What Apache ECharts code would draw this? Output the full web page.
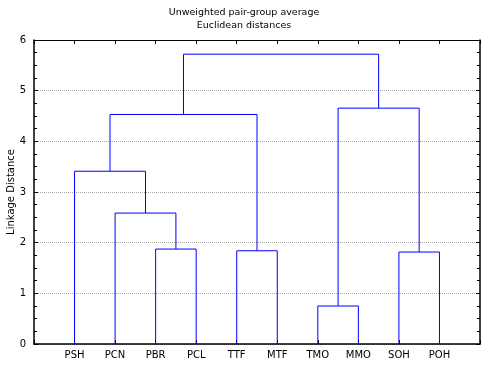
<!DOCTYPE html>
<html>
<head>
<meta charset="utf-8">
<script src="https://cdn.jsdelivr.net/npm/echarts@6/dist/echarts.min.js"></script>
<style>html,body{margin:0;padding:0;background:#fff}#c{width:488px;height:369px}</style>
</head>
<body>
<div id="c"></div>
<script>
// Leaves in dendrogram order
const leaves = ['PSH','PCN','PBR','PCL','TTF','MTF','TMO','MMO','SOH','POH'];
// Merges: [left cluster id, right cluster id, linkage distance]; leaf ids 0..9, new clusters 10..
const mergeLeft  = [6, 8, 4, 2, 1, 0, 15, 10, 16];
const mergeRight = [7, 9, 5, 3, 13, 14, 12, 11, 17];
const mergeHeight = [0.75, 1.815, 1.84, 1.874, 2.584, 3.41, 4.53, 4.655, 5.72];
const yTicks = [0, 1, 2, 3, 4, 5, 6];

const pos = leaves.map((_, i) => i + 1);
const hgt = leaves.map(() => 0);
const series = [];
mergeHeight.forEach((h, k) => {
  const a = mergeLeft[k], b = mergeRight[k];
  series.push({
    type: 'line', symbol: 'none', silent: true, animation: false,
    lineStyle: { color: '#0000ff', width: 1 },
    data: [[pos[a], hgt[a]], [pos[a], h], [pos[b], h], [pos[b], hgt[b]]]
  });
  pos.push((pos[a] + pos[b]) / 2);
  hgt.push(h);
});

const font = 'DejaVu Sans';
const chart = echarts.init(document.getElementById('c'), null, { renderer: 'canvas' });
chart.setOption({
  animation: false,
  backgroundColor: '#fff',
  textStyle: { fontFamily: font },
  title: {
    text: 'Unweighted pair-group average\nEuclidean distances',
    left: 'center', top: 1,
    textStyle: { fontFamily: font, fontSize: 9.5, fontWeight: 'normal', color: '#000', lineHeight: 13 }
  },
  grid: { left: 34, right: 8, top: 40, bottom: 25, containLabel: false, outerBoundsMode: 'none' },
  xAxis: [{
    type: 'value', min: 0, max: leaves.length + 1, interval: 1, position: 'bottom',
    axisLine: { onZero: false, lineStyle: { color: '#000', width: 1.5 } },
    axisTick: { inside: true, length: 4, lineStyle: { color: '#000' } },
    splitLine: { show: false },
    axisLabel: {
      margin: 6, color: '#000', fontFamily: font, fontSize: 10,
      formatter: v => (v >= 1 && v <= leaves.length) ? leaves[v - 1] : ''
    }
  }, {
    type: 'value', min: 0, max: leaves.length + 1, interval: 1, position: 'top',
    axisLine: { show: true, onZero: false, lineStyle: { color: '#000', width: 1 } },
    axisTick: { show: true, inside: true, length: 4, lineStyle: { color: '#000' } },
    splitLine: { show: false }, axisLabel: { show: false }
  }],
  yAxis: [{
    type: 'value', min: yTicks[0], max: yTicks[yTicks.length - 1], interval: 1, position: 'left',
    name: 'Linkage Distance', nameLocation: 'middle', nameGap: 18, nameMoveOverlap: false,
    nameTextStyle: { fontFamily: font, fontSize: 10, color: '#000' },
    axisLine: { show: true, onZero: false, lineStyle: { color: '#000', width: 1.5 } },
    axisTick: { show: true, inside: true, length: 4, lineStyle: { color: '#000' } },
    minorTick: { show: true, splitNumber: 4, length: 3, lineStyle: { color: '#000' } },
    splitLine: { show: true, lineStyle: { color: '#a8a8a8', type: [1, 1], width: 1 } },
    axisLabel: { margin: 8, color: '#000', fontFamily: font, fontSize: 10 }
  }, {
    type: 'value', min: yTicks[0], max: yTicks[yTicks.length - 1], interval: 1, position: 'right',
    axisLine: { show: true, onZero: false, lineStyle: { color: '#000', width: 1.5 } },
    axisTick: { show: true, inside: true, length: 4, lineStyle: { color: '#000' } },
    minorTick: { show: true, splitNumber: 4, length: 3, lineStyle: { color: '#000' } },
    splitLine: { show: false }, axisLabel: { show: false }
  }],
  series: series
});
</script>
</body>
</html>
